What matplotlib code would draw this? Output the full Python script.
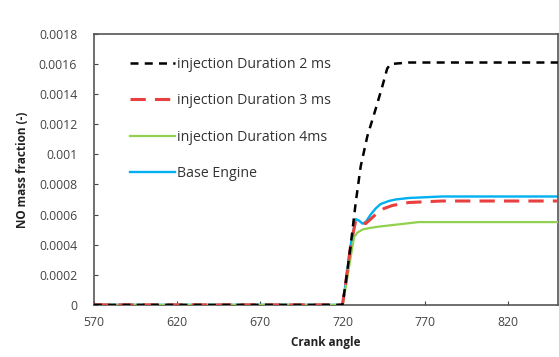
import matplotlib.pyplot as plt

# crank angle / NO mass fraction
ca_2ms = [570, 720, 722, 725, 728, 731, 735, 740, 744, 747, 749, 760, 800, 850]
no_2ms = [0, 0, 0.00015, 0.0004, 0.00068, 0.00092, 0.00112, 0.0013, 0.00145, 0.00157, 0.0016, 0.00161, 0.00161, 0.00161]

ca_3ms = [570, 720, 722, 725, 728, 731, 734, 737, 740, 745, 750, 760, 780, 850]
no_3ms = [0, 0, 0.00015, 0.0004, 0.00056, 0.00055, 0.00054, 0.00057, 0.0006, 0.00064, 0.00066, 0.00068, 0.00069, 0.00069]

ca_4ms = [570, 720, 722, 725, 727, 729, 732, 736, 742, 750, 766, 790, 850]
no_4ms = [0, 0, 0.00012, 0.00032, 0.00045, 0.00048, 0.0005, 0.00051, 0.00052, 0.00053, 0.00055, 0.00055, 0.00055]

ca_base = [570, 720, 722, 725, 728, 730, 732, 734, 737, 740, 743, 748, 752, 760, 780, 850]
no_base = [0, 0, 0.00015, 0.0004, 0.00057, 0.00056, 0.00054, 0.00055, 0.0006, 0.00064, 0.00067, 0.00069, 0.0007, 0.00071, 0.00072, 0.00072]

labels = ['injection Duration 2 ms', 'injection Duration 3 ms',
          'injection Duration 4ms', 'Base Engine']

plt.rcParams['font.family'] = ['Open Sans', 'DejaVu Sans']

fig = plt.figure(figsize=(5.59, 3.57), dpi=100)
ax = fig.add_axes([0.168, 0.146, 0.83, 0.759])

ax.plot(ca_base, no_base, color='#00b0f0', lw=1.7, label=labels[3], zorder=2)
ax.plot(ca_4ms, no_4ms, color='#92d050', lw=1.6, label=labels[2], zorder=3)
ax.plot(ca_3ms, no_3ms, color='#e8403e', lw=2.2, dashes=(5, 3), label=labels[1], zorder=4)
ax.plot(ca_2ms, no_2ms, color='black', lw=1.8, dashes=(3.2, 2.5), label=labels[0], zorder=5)

ax.set_xlim(570, 850)
ax.set_ylim(0, 0.0018)
ax.set_xticks([570, 620, 670, 720, 770, 820])
yt = [0, 0.0002, 0.0004, 0.0006, 0.0008, 0.001, 0.0012, 0.0014, 0.0016, 0.0018]
ax.set_yticks(yt)
ax.set_yticklabels(['0' if v == 0 else ('%g' % v) for v in yt])
ax.tick_params(direction='in', labelsize=8.8, colors='#444444', length=3)
ax.tick_params(axis='y', pad=12)
ax.tick_params(axis='x', pad=8)
for s in ax.spines.values():
    s.set_color('#555555')
    s.set_linewidth(1.2)

ax.set_xlabel('Crank angle', fontsize=8.5, fontweight='bold', labelpad=5, color='#222222')
ax.set_ylabel('NO mass fraction (-)', fontsize=8.5, fontweight='bold', labelpad=7, color='#222222')

h, l = ax.get_legend_handles_labels()
order = [3, 2, 1, 0]
ax.legend([h[i] for i in order], [l[i] for i in order], loc='upper left',
          frameon=False, fontsize=10.2, handlelength=3.2, handletextpad=0.15,
          labelspacing=1.5, bbox_to_anchor=(0.065, 0.935), borderaxespad=0,
          labelcolor='#333333')

fig.savefig('out.png', dpi=100)
